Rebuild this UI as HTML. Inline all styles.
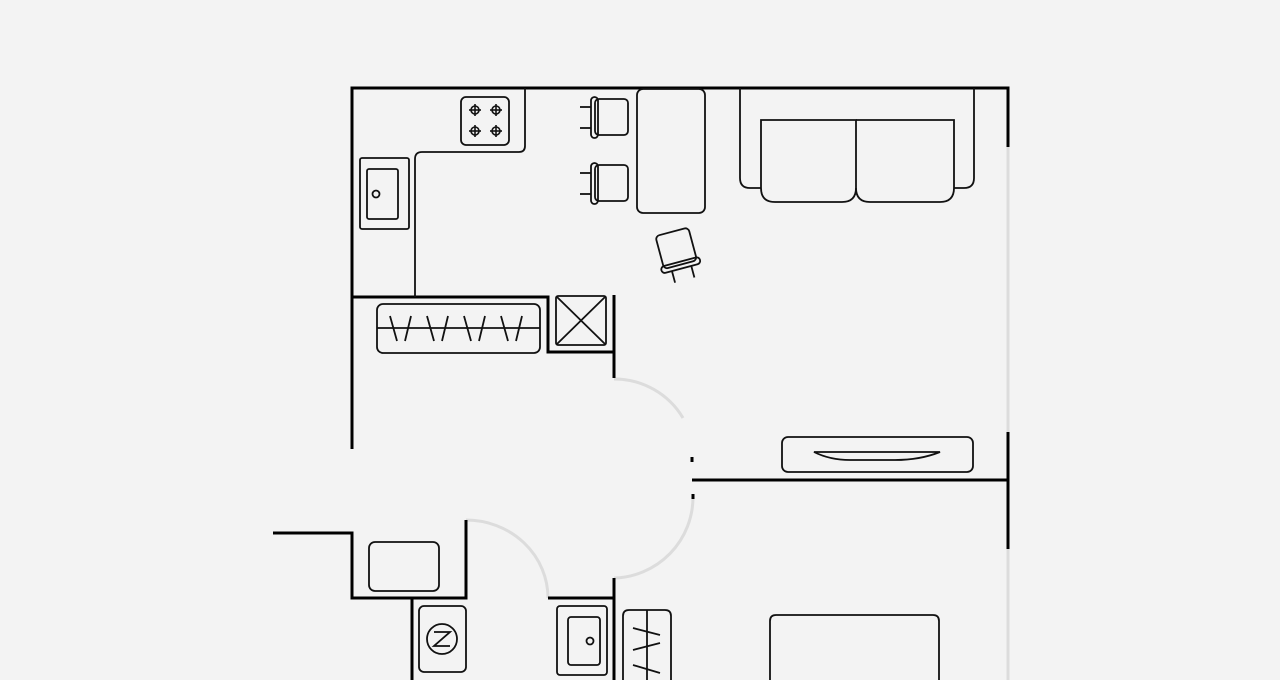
<!DOCTYPE html>
<html><head><meta charset="utf-8"><style>html,body{margin:0;padding:0;background:#f3f3f3;}svg{display:block}</style></head><body>
<svg width="1280" height="680" viewBox="0 0 1280 680" xmlns="http://www.w3.org/2000/svg">
<rect width="1280" height="680" fill="#f3f3f3"/>
<!-- gray walls / door arcs -->
<g fill="none" stroke="#dcdcdc" stroke-width="3">
<line x1="1008" y1="147" x2="1008" y2="432"/>
<line x1="1008" y1="549" x2="1008" y2="680"/>
<path d="M614,379 A80,80 0 0 1 683,418"/>
<path d="M693,497 A81,81 0 0 1 614,578"/>
<path d="M466,520 A82,78 0 0 1 548,598"/>
</g>
<!-- walls -->
<g fill="none" stroke="#000" stroke-width="3">
<polyline points="352,449 352,88 1008,88 1008,147"/>
<line x1="1008" y1="432" x2="1008" y2="549"/>
<polyline points="352,297 548,297 548,352 614,352"/>
<line x1="614" y1="295" x2="614" y2="378"/>
<line x1="692" y1="480" x2="1008" y2="480"/>
<line x1="692" y1="457" x2="692" y2="462"/>
<line x1="693" y1="494" x2="693" y2="499"/>
<polyline points="273,533 352,533 352,598 466,598 466,520"/>
<line x1="412" y1="598" x2="412" y2="680"/>
<polyline points="548,598 614,598 614,578"/>
<line x1="614" y1="598" x2="614" y2="680"/>
</g>
<g fill="none" stroke="#111" stroke-width="1.8">
<!-- kitchen counter -->
<path d="M415,297 L415,159 Q415,152 422,152 L519,152 Q525,152 525,146 L525,88"/>
<!-- stove -->
<rect x="461" y="97" width="48" height="48" rx="5"/>
<g stroke-width="1.6">
<circle cx="475" cy="110" r="4"/><line x1="469" y1="110" x2="481" y2="110"/><line x1="475" y1="104" x2="475" y2="116"/>
<circle cx="496" cy="110" r="4"/><line x1="490" y1="110" x2="502" y2="110"/><line x1="496" y1="104" x2="496" y2="116"/>
<circle cx="475" cy="131" r="4"/><line x1="469" y1="131" x2="481" y2="131"/><line x1="475" y1="125" x2="475" y2="137"/>
<circle cx="496" cy="131" r="4"/><line x1="490" y1="131" x2="502" y2="131"/><line x1="496" y1="125" x2="496" y2="137"/>
</g>
<!-- sink -->
<rect x="360" y="158" width="49" height="71" rx="2"/>
<rect x="367" y="169" width="31" height="50" rx="2"/>
<circle cx="376" cy="194" r="3.5"/>
<!-- closet -->
<rect x="377" y="304" width="163" height="49" rx="6"/>
<line x1="377" y1="328" x2="540" y2="328"/>
<path d="M390,316 L397,341 M405,341 L411,316 M427,316 L434,341 M442,341 L448,316 M464,316 L471,341 M479,341 L485,316 M501,316 L508,341 M516,341 L522,316"/>
<!-- X box -->
<rect x="556" y="296" width="50" height="49" rx="2"/>
<path d="M557,297 L605,344 M605,297 L557,344"/>
<!-- bar chairs -->
<g id="ch">
<rect x="595" y="99" width="33" height="36" rx="4"/>
<rect x="591" y="97" width="7" height="41" rx="3.5"/>
<line x1="580" y1="107" x2="591" y2="107"/><line x1="580" y1="128" x2="591" y2="128"/>
</g>
<use href="#ch" y="66"/>
<!-- table -->
<rect x="637" y="89" width="68" height="124" rx="6"/>
<!-- rotated chair -->
<g transform="rotate(-15 678 255)">
<rect x="661" y="231" width="34" height="34" rx="4"/>
<rect x="658" y="262" width="40" height="7" rx="3.5"/>
<line x1="668" y1="269" x2="668" y2="281"/><line x1="688" y1="269" x2="688" y2="281"/>
</g>
<!-- sofa -->
<path d="M740,88 L740,178 Q740,188 750,188 L761,188"/>
<path d="M974,88 L974,178 Q974,188 964,188 L954,188"/>
<path d="M761,120 L856,120 L856,188 Q856,202 842,202 L775,202 Q761,202 761,188 Z"/>
<path d="M856,120 L954,120 L954,188 Q954,202 940,202 L870,202 Q856,202 856,188"/>
<!-- tv -->
<rect x="782" y="437" width="191" height="35" rx="6"/>
<path d="M814,452 L940,452 Q920,460 895,460 L850,460 Q830,460 814,452 Z"/>
<!-- lower-left -->
<rect x="369" y="542" width="70" height="49" rx="6"/>
<rect x="419" y="606" width="47" height="66" rx="5"/>
<circle cx="442" cy="639" r="15"/>
<path d="M434,632 L450,632 L434,646 L450,646"/>
<!-- lower sink -->
<rect x="557" y="606" width="50" height="69" rx="3"/>
<rect x="568" y="617" width="32" height="48" rx="3"/>
<circle cx="590" cy="641" r="3.5"/>
<!-- lower closet -->
<path d="M623,680 L623,616 Q623,610 629,610 L665,610 Q671,610 671,616 L671,680"/>
<line x1="647" y1="610" x2="647" y2="680"/>
<path d="M633,628 L660,635 M633,650 L660,643 M633,665 L660,673"/>
<!-- bed -->
<path d="M770,680 L770,621 Q770,615 776,615 L933,615 Q939,615 939,621 L939,680"/>
</g>
</svg>
</body></html>
